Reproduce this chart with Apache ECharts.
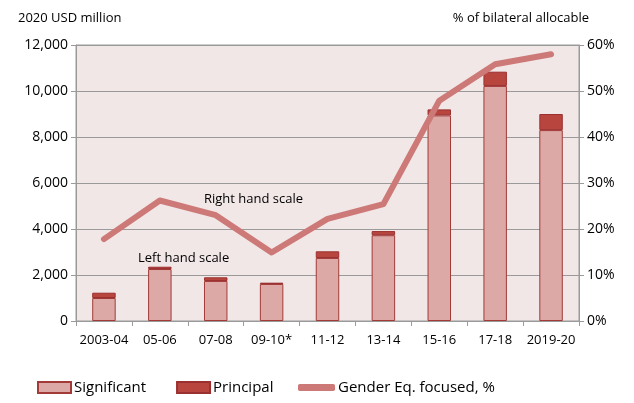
<!DOCTYPE html>
<html>
<head>
<meta charset="utf-8">
<script src="https://cdn.jsdelivr.net/npm/echarts@6/dist/echarts.min.js"></script>
<style>
  html, body { margin: 0; padding: 0; background: #fff; }
  #chart { width: 634px; height: 403px; }
</style>
</head>
<body>
<div id="chart"></div>
<script>
// data
const years = ['2003-04', '05-06', '07-08', '09-10*', '11-12', '13-14', '15-16', '17-18', '2019-20'];
const significant = [1000, 2260, 1740, 1610, 2740, 3730, 8940, 10220, 8300];
const principal = [230, 100, 160, 55, 290, 180, 260, 620, 700];
const genderPct = [17.8, 26.2, 23.0, 14.9, 22.2, 25.4, 47.9, 55.8, 58.0];

const font = '"Open Sans", "Noto Sans", sans-serif';
const myChart = echarts.init(document.getElementById('chart'));

const option = {
    animation: false,
    textStyle: { fontFamily: font, color: '#000' },
    grid: {
        left: 76, right: 55, top: 45, bottom: 82,
        show: true,
        backgroundColor: '#f2e7e7',
        borderColor: '#9a9a9a',
        borderWidth: 1
    },
    legend: [
        {
            left: 32, top: 375,
            itemWidth: 33, itemHeight: 11, itemGap: 30,
            textStyle: { fontFamily: font, fontSize: 15, color: '#000', padding: [0, 0, 0, -2] },
            data: [
                { name: 'Significant', icon: 'rect' },
                { name: 'Principal', icon: 'rect' }
            ]
        },
        {
            left: 293, top: 375,
            itemWidth: 37, itemHeight: 7,
            textStyle: { fontFamily: font, fontSize: 15, color: '#000', padding: [0, 0, 0, -2] },
            data: [{ name: 'Gender Eq. focused, %', icon: 'roundRect' }]
        }
    ],
    xAxis: {
        type: 'category',
        data: years,
        axisLine: { lineStyle: { color: '#9a9a9a' } },
        axisTick: { show: true, interval: 0, length: 5, lineStyle: { color: '#9a9a9a' } },
        axisLabel: { fontSize: 13, color: '#000', margin: 13, interval: 0 }
    },
    yAxis: [
        {
            type: 'value',
            min: 0, max: 12000, interval: 2000,
            name: '2020 USD million',
            nameLocation: 'end',
            nameGap: 20,
            nameTextStyle: { fontSize: 13, color: '#000', align: 'left', padding: [0, 0, 0, -58] },
            axisLine: { show: true, lineStyle: { color: '#9a9a9a' } },
            axisTick: { show: true, length: 5, lineStyle: { color: '#9a9a9a' } },
            splitLine: { lineStyle: { color: '#9a9a9a', width: 1 } },
            axisLabel: {
                fontSize: 14, color: '#000', margin: 8,
                formatter: v => v.toLocaleString('en-US')
            }
        },
        {
            type: 'value',
            min: 0, max: 60, interval: 10,
            name: '% of bilateral allocable',
            nameLocation: 'end',
            nameGap: 20,
            nameTextStyle: { fontSize: 13, color: '#000', align: 'right', padding: [0, -10, 0, 0] },
            axisLine: { show: true, lineStyle: { color: '#9a9a9a' } },
            axisTick: { show: true, length: 5, lineStyle: { color: '#9a9a9a' } },
            splitLine: { show: false },
            axisLabel: { fontSize: 14, color: '#000', margin: 8, formatter: '{value}%' }
        }
    ],
    series: [
        {
            name: 'Significant',
            type: 'bar',
            stack: 'total',
            barWidth: '42%',
            data: significant,
            itemStyle: { color: '#dca9a6', borderColor: '#a23a38', borderWidth: 1 }
        },
        {
            name: 'Principal',
            type: 'bar',
            stack: 'total',
            data: principal,
            itemStyle: { color: '#b8463f', borderColor: '#9b3030', borderWidth: 1 }
        },
        {
            name: 'Gender Eq. focused, %',
            type: 'line',
            yAxisIndex: 1,
            data: genderPct,
            symbol: 'none',
            z: 5,
            itemStyle: { color: '#cc7977' },
            lineStyle: { color: '#cc7977', width: 6, cap: 'round', join: 'round' }
        }
    ],
    graphic: [
        { type: 'text', left: 204, top: 193, style: { text: 'Right hand scale', font: '13px ' + font, fill: '#000' } },
        { type: 'text', left: 138, top: 252, style: { text: 'Left hand scale', font: '13px ' + font, fill: '#000' } }
    ]
};
myChart.setOption(option);
window.addEventListener('resize', function () {
    myChart.resize();
});
</script>
</body>
</html>
